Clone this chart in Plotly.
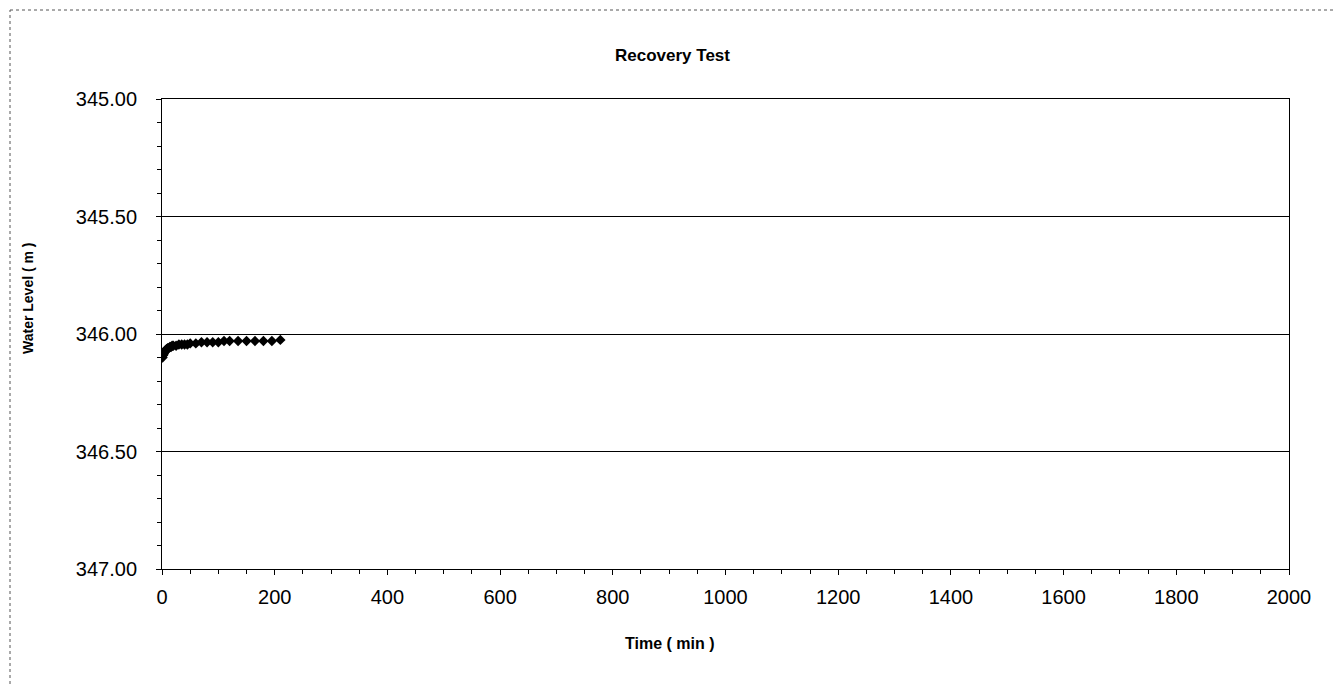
import plotly.graph_objects as go

time_min = [1, 2, 3, 4, 5, 6, 7, 8, 9, 10, 12, 14, 16, 18, 20, 25, 30, 35, 40, 45, 50, 60,
            70, 80, 90, 100, 110, 120, 135, 150, 165, 180, 195, 210]
water_level = [346.10, 346.09, 346.085, 346.08, 346.075, 346.07, 346.07, 346.065, 346.065, 346.06,
               346.06, 346.055, 346.055, 346.05, 346.05, 346.05, 346.045, 346.045, 346.045, 346.045,
               346.04, 346.04, 346.035, 346.035, 346.035, 346.035, 346.03, 346.03, 346.03, 346.03,
               346.03, 346.03, 346.03, 346.025]

x_ticks = [0, 200, 400, 600, 800, 1000, 1200, 1400, 1600, 1800, 2000]
y_ticks = [345.0, 345.5, 346.0, 346.5, 347.0]

font = "Liberation Sans, Arial, sans-serif"

# target plot area in page pixels (page body adds ~8px offset)
L, R, T, B = 162, 1289, 99, 569
OFF = 8
W, H = 1344, 687
PW, PH = R - L, B - T


def px(x):
    return (x - L) / PW


def py(y):
    return (B - y) / PH


fig = go.Figure()
fig.add_trace(go.Scatter(
    x=time_min, y=water_level, mode="lines+markers",
    line=dict(color="black", width=1),
    marker=dict(symbol="diamond", size=8, color="black"),
    showlegend=False,
))

fig.update_layout(
    width=W, height=H,
    paper_bgcolor="white", plot_bgcolor="white",
    margin=dict(l=L - OFF, r=W - R + OFF, t=T - OFF, b=H - B + OFF, autoexpand=False),
    font=dict(family=font, size=20, color="black"),
    shapes=[
        dict(type="line", xref="paper", yref="paper", x0=px(1338), x1=px(1338), y0=py(690), y1=py(10),
             line=dict(color="#555", width=1, dash="dot")),
        dict(type="line", xref="paper", yref="paper", x0=px(10), x1=px(1338), y0=py(10), y1=py(10),
             line=dict(color="#555", width=1, dash="dot")),
        dict(type="line", xref="paper", yref="paper", x0=px(10), x1=px(10), y0=py(690), y1=py(10),
             line=dict(color="#555", width=1, dash="dot")),
    ],
    annotations=[
        dict(text="<b>Recovery Test</b>", xref="paper", yref="paper", x=px(672), y=py(55),
             xanchor="center", yanchor="middle", showarrow=False,
             font=dict(family=font, size=17, color="black")),
        dict(text="<b>Time ( min )</b>", xref="paper", yref="paper", x=px(670), y=py(643),
             xanchor="center", yanchor="middle", showarrow=False,
             font=dict(family=font, size=16, color="black")),
        dict(text="<b>Water Level ( m )</b>", xref="paper", yref="paper", x=px(28), y=py(298),
             xanchor="center", yanchor="middle", showarrow=False, textangle=-90,
             font=dict(family=font, size=14, color="black")),
    ],
)

fig.update_xaxes(
    range=[0, 2000], tickvals=x_ticks, ticktext=[str(v) for v in x_ticks],
    showgrid=False, zeroline=False,
    showline=True, linecolor="black", linewidth=1, mirror=True,
    ticks="outside", ticklen=5, tickcolor="black",
    minor=dict(dtick=50, ticks="outside", ticklen=4, tickcolor="black"),
    tickfont=dict(size=20), ticklabelstandoff=5,
)
fig.update_yaxes(
    range=[347, 345], tickvals=y_ticks, ticktext=[f"{v:.2f}" for v in y_ticks],
    showgrid=True, gridcolor="black", gridwidth=1, zeroline=False,
    showline=True, linecolor="black", linewidth=1, mirror=True,
    ticks="outside", ticklen=5, tickcolor="black",
    minor=dict(dtick=0.1, ticks="outside", ticklen=4, tickcolor="black", showgrid=False),
    tickfont=dict(size=20), ticklabelstandoff=15,
)

fig.write_html("out.html")
